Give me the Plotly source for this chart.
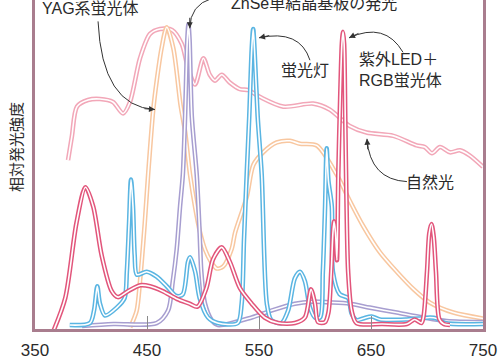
import plotly.graph_objects as go

# ---------------- data (wavelength nm, relative intensity 0-100) ----------------
led_wl = [366, 377, 387, 395, 402, 409.5, 418.5, 424, 433, 444, 452.7, 464, 477, 488, 495, 503, 509, 516.7,
          524, 533, 543.5, 555, 567, 582, 591, 596.4, 600, 602.7, 609, 612, 614.5, 616, 617, 618.3, 619.6,
          620.8, 622.5, 624, 625, 626, 627, 628, 629.6, 632.7, 637, 660, 682, 689, 695, 697, 700, 702, 704,
          706, 708, 711, 715, 720.5]
led_val = [-1, 9.4, 32.2, 43.1, 37.2, 22.4, 11.5, 9.7, 11.5, 13.3, 13.0, 11.5, 9.1, 7.7, 6.8, 12.4, 21.2, 24.8,
           20.4, 12.4, 7.7, 3.5, 1.8, 1.8, 3.5, 12.1, 7.7, 2.1, 2.1, 5.0, 17.4, 29.2, 32.7, 29.2, 20.9,
           46.9, 70.5, 86.7, 90.3, 86.7, 64.6, 41.0, 17.4, 5.6, 1.8, 1.5, 1.5, 2.9, 1.8, 4.0, 17.4, 29.0, 31.9,
           28.0, 17.4, 3.0, 1.5, 1.2]

fl_wl = [381, 399, 402.7, 405.6, 408, 412.5, 423, 430, 432, 434, 435.7, 437.5, 439, 441, 449.7, 458.6, 467.6,
         476.5, 482, 486.6, 488.4, 493, 497, 504.5, 513, 531, 534.5, 536.6, 539, 541.3, 543.5, 544.8, 546,
         548.8, 552.4, 557, 561, 570, 576, 582, 586.6, 591, 595.5, 600, 604.5, 607, 609, 610.4, 612, 615,
         616, 622, 629.6, 632.7, 637, 643, 650.6, 658, 682, 693.8, 702.7, 708.7, 716, 750]
fl_val = [1.2, 1.8, 5.6, 13.0, 7.7, 4.1, 6.5, 9.4, 17.4, 32.2, 45.4, 37.2, 22.4, 16.5, 17.4, 15.9, 13.0,
          10.0, 10.6, 20.4, 21.8, 17.4, 9.4, 3.5, 1.8, 1.8, 7.7, 27.1, 46.9, 64.6, 85.0, 91.2, 85.0,
          64.6, 46.9, 7.7, 2.7, 1.8, 5.6, 15.4, 17.4, 14.5, 6.5, 3.5, 3.5, 17.4, 37.2, 54.9, 45.0, 37.2,
          17.4, 10.6, 9.4, 4.7, 2.7, 3.2, 3.8, 2.9, 2.9, 3.2, 3.5, 3.2, 1.8, 1.5]

znse_wl = [392, 420, 458.6, 468.8, 473, 476.5, 479.5, 482, 484, 486, 487, 488, 490, 494.4, 497, 498.5, 501.8,
           507.8, 513.4, 543.5, 561, 582, 597, 613, 631, 649, 673, 696.5, 717.6, 750]
znse_val = [0.9, 1.5, 1.8, 5.6, 14.5, 24.2, 37.2, 46.9, 64.6, 88.0, 92.6, 88.0, 64.6, 46.9, 29.2, 17.4, 7.7,
            2.7, 1.2, 3.5, 5.6, 7.7, 8.3, 8.1, 7.7, 6.5, 5.0, 3.5, 2.4, 2.1]

yag_wl = [435, 440.8, 443.75, 448, 451, 455.6, 458.7, 463, 467.6, 473.5, 480, 484, 488.4, 493, 497.3, 502,
          507, 512.2, 518, 525.6, 528.6, 539, 545, 554, 565.8, 577.7, 586.6, 601.5, 619.4, 631, 643, 658,
          673, 688, 702.7, 723.5, 750]
yag_val = [0.5, 5.6, 14.5, 32.2, 46.9, 66.7, 75.5, 85.3, 91.7, 85.3, 68.0, 60.0, 47.0, 37.0, 29.5, 24.0,
           20.5, 18.4, 19.0, 24.3, 29.2, 40.1, 49.9, 53.8, 56.7, 57.2, 56.3, 55.8, 46.9, 39.0, 31.3, 23.3,
           17.4, 12.1, 8.0, 5.0, 3.2]

sun_wl = [379.5, 383, 387.5, 397.3, 408, 419.6, 428.6, 434.8, 443.75, 452.7, 461.6, 472.3, 481, 486.6,
          492.9, 500.3, 506, 510.7, 516.7, 524, 533, 540.5, 551, 571.7, 598.5, 613, 631, 646, 670, 690.8,
          698, 704.5, 711.6, 720.5, 729.5, 738, 750]
sun_val = [51.3, 58.7, 67.6, 69.6, 69.9, 69.0, 65.5, 69.0, 82.3, 89.7, 91.2, 90.9, 86.7, 79.4,
           74.3, 82.3, 77.3, 75.5, 77.3, 74.9, 72.9, 72.6, 70.5, 67.6, 68.5, 66.7, 61.7, 59.7, 58.7, 55.8,
           55.3, 53.4, 55.3, 53.7, 54.3, 52.8, 49.3]

x_ticks = [350, 450, 550, 650, 750]
y_title = "相対発光強度"

series = [
    (sun_wl, sun_val, "#f2a7b8"),
    (yag_wl, yag_val, "#f8c7a0"),
    (znse_wl, znse_val, "#a79ed0"),
    (fl_wl, fl_val, "#5ab5e2"),
    (led_wl, led_val, "#e2557b"),
]

fig = go.Figure()
for wl, val, col in series:
    fig.add_trace(go.Scatter(x=wl, y=val, mode="lines",
                             line=dict(color=col, width=4.6, shape="spline", smoothing=0.8),
                             hoverinfo="skip", showlegend=False))
    fig.add_trace(go.Scatter(x=wl, y=val, mode="lines",
                             line=dict(color="white", width=1.6, shape="spline", smoothing=0.8),
                             hoverinfo="skip", showlegend=False))

# curved leader lines (quadratic Bezier paths in data coords)
leaders = [
    ((406.3, 93.5), (409.8, 67.6), (457.1, 66.7), (-12, -1)),
    ((508.0, 100.5), (488.4, 98.5), (488.2, 91.4), (0, -12)),
    ((595.5, 81.7), (586.6, 91.2), (550.0, 88.5), (11.7, -2.6)),
    ((678.6, 84.1), (662.5, 93.5), (630.4, 88.5), (10.9, -5.1)),
    ((682.1, 44.8), (649.1, 45.4), (646.4, 57.8), (0.9, 12)),
]
for p0, c, p1, (ax, ay) in leaders:
    fig.add_shape(type="path", xref="x", yref="y",
                  path=f"M {p0[0]},{p0[1]} Q {c[0]},{c[1]} {p1[0]},{p1[1]}",
                  line=dict(color="#333333", width=1))
    fig.add_annotation(x=p1[0], y=p1[1], xref="x", yref="y", text="", showarrow=True,
                       ax=ax, ay=ay, arrowhead=2, arrowsize=1.2, arrowwidth=1, arrowcolor="#333333",
                       standoff=0)

font = dict(family="Liberation Sans, Noto Sans CJK JP", size=16, color="#2a2a2a")
labels = [
    ("YAG系蛍光体", 90.5, 9, "center"),
    ("ZnSe単結晶基板の発光", 314, 4, "center"),
    ("蛍光灯", 305, 73, "center"),
    ("紫外LED＋<br>RGB蛍光体", 357, 72.5, "left"),
    ("自然光", 430, 188, "center"),
]
for txt, px, py, anc in labels:
    fig.add_annotation(x=(px - 35) / 448, y=(339 - py) / 339, xref="paper", yref="paper",
                       text=txt, showarrow=False, xanchor=anc, yanchor="middle", font=font, align="left")

fig.add_annotation(x=(15.5 - 35) / 448, y=(339 - 152) / 339, xref="paper", yref="paper",
                   text=y_title, showarrow=False, textangle=-90, xanchor="center", yanchor="middle",
                   font=dict(family="Noto Sans CJK JP", size=15, color="#2a2a2a"))

axcol = "#a97d8e"
fig.update_xaxes(range=[350, 750], tickvals=x_ticks, ticktext=[str(v) for v in x_ticks],
                 ticks="inside", ticklen=13, tickwidth=1, tickcolor="#8a8a8a",
                 showline=True, linecolor=axcol, linewidth=3, mirror=False,
                 showgrid=False, zeroline=False, ticklabelstandoff=4,
                 tickfont=dict(family="Liberation Sans, Arial", size=17, color="#2a2a2a"))
fig.update_yaxes(range=[0, 100], showticklabels=False, ticks="", showgrid=False, zeroline=False,
                 showline=True, linecolor=axcol, linewidth=3, mirror=True)

fig.update_layout(width=500, height=360, margin=dict(l=35, r=17, t=0, b=21),
                  paper_bgcolor="white", plot_bgcolor="white")

fig.write_html("out.html")
